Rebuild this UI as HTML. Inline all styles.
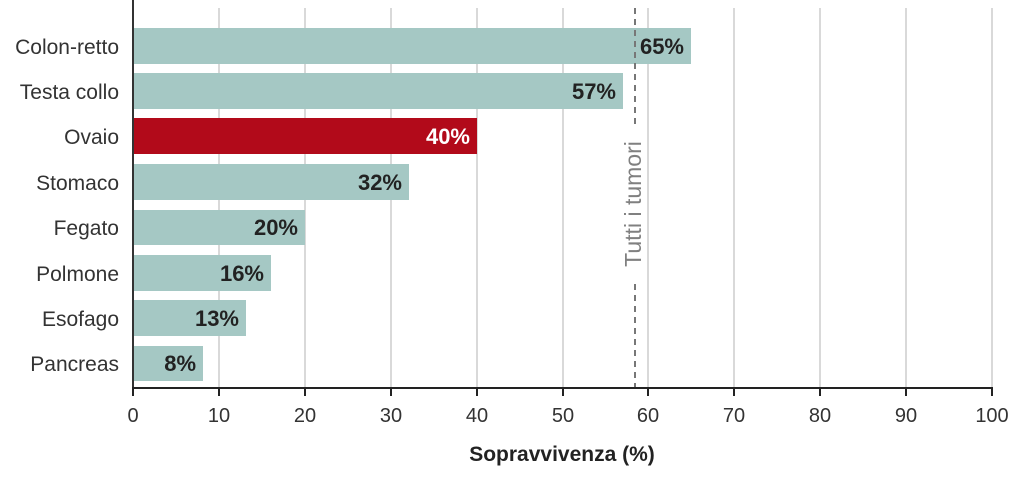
<!DOCTYPE html>
<html><head><meta charset="utf-8"><style>
html,body{margin:0;padding:0;background:#fff;}
svg{display:block;font-family:"Liberation Sans",sans-serif;}
</style></head><body>
<svg width="1024" height="478" viewBox="0 0 1024 478">
<g stroke="#d9d9d9" stroke-width="2">
<line x1="219" y1="8" x2="219" y2="388"/><line x1="305" y1="8" x2="305" y2="388"/>
<line x1="391" y1="8" x2="391" y2="388"/><line x1="477" y1="8" x2="477" y2="388"/>
<line x1="563" y1="8" x2="563" y2="388"/><line x1="648" y1="8" x2="648" y2="388"/>
<line x1="734" y1="8" x2="734" y2="388"/><line x1="820" y1="8" x2="820" y2="388"/>
<line x1="906" y1="8" x2="906" y2="388"/><line x1="992" y1="8" x2="992" y2="388"/>
</g>
<g fill="#a5c8c4">
<rect x="134" y="28" width="557" height="36"/>
<rect x="134" y="73" width="489" height="36"/>
<rect x="134" y="164" width="275" height="36"/>
<rect x="134" y="210" width="171" height="35"/>
<rect x="134" y="255" width="137" height="36"/>
<rect x="134" y="300" width="112" height="36"/>
<rect x="134" y="346" width="69" height="35"/>
</g>
<rect x="134" y="118" width="343" height="36" fill="#b20a1a"/>
<g stroke="#777" stroke-width="2" stroke-dasharray="6,5">
<line x1="635" y1="8" x2="635" y2="126"/>
<line x1="635" y1="284" x2="635" y2="388"/>
</g>
<text transform="translate(641,204) rotate(-90)" text-anchor="middle" font-size="23" fill="#808080">Tutti i tumori</text>
<g font-size="22" font-weight="bold" fill="#222" text-anchor="end">
<text x="684" y="54">65%</text>
<text x="616" y="99">57%</text>
<text x="470" y="144" fill="#fff">40%</text>
<text x="402" y="190">32%</text>
<text x="298" y="235">20%</text>
<text x="264" y="281">16%</text>
<text x="239" y="326">13%</text>
<text x="196" y="371">8%</text>
</g>
<g font-size="21" fill="#333" text-anchor="end">
<text x="119" y="54">Colon-retto</text>
<text x="119" y="99">Testa collo</text>
<text x="119" y="144">Ovaio</text>
<text x="119" y="190">Stomaco</text>
<text x="119" y="235">Fegato</text>
<text x="119" y="281">Polmone</text>
<text x="119" y="326">Esofago</text>
<text x="119" y="371">Pancreas</text>
</g>
<line x1="133" y1="0" x2="133" y2="389" stroke="#333" stroke-width="2"/>
<line x1="132" y1="388" x2="993" y2="388" stroke="#222" stroke-width="2"/>
<g stroke="#222" stroke-width="2">
<line x1="133" y1="388" x2="133" y2="396"/><line x1="219" y1="388" x2="219" y2="396"/>
<line x1="305" y1="388" x2="305" y2="396"/><line x1="391" y1="388" x2="391" y2="396"/>
<line x1="477" y1="388" x2="477" y2="396"/><line x1="563" y1="388" x2="563" y2="396"/>
<line x1="648" y1="388" x2="648" y2="396"/><line x1="734" y1="388" x2="734" y2="396"/>
<line x1="820" y1="388" x2="820" y2="396"/><line x1="906" y1="388" x2="906" y2="396"/>
<line x1="992" y1="388" x2="992" y2="396"/>
</g>
<g font-size="20" fill="#333" text-anchor="middle">
<text x="133" y="422">0</text><text x="219" y="422">10</text><text x="305" y="422">20</text>
<text x="391" y="422">30</text><text x="477" y="422">40</text><text x="563" y="422">50</text>
<text x="648" y="422">60</text><text x="734" y="422">70</text><text x="820" y="422">80</text>
<text x="906" y="422">90</text><text x="992" y="422">100</text>
</g>
<text x="562" y="461" font-size="21" font-weight="bold" fill="#222" text-anchor="middle">Sopravvivenza (%)</text>
</svg>
</body></html>
